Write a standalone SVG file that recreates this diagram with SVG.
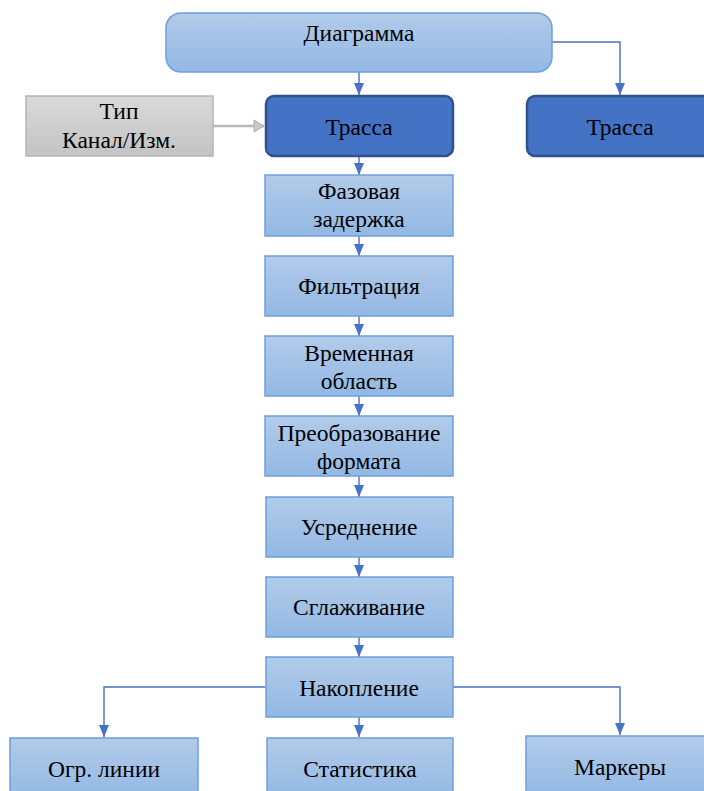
<svg xmlns="http://www.w3.org/2000/svg" width="704" height="791" viewBox="0 0 704 791">
<style>
text{font-family:"Liberation Serif","Times New Roman",serif;font-size:23.5px;fill:#000;text-anchor:middle;dominant-baseline:central}
.lb{fill:url(#gb);stroke:#6e9fda;stroke-width:1.5}
.dk{fill:#4472c4;stroke:#2f528f;stroke-width:2.5}
.gr{fill:url(#gg);stroke:#b4b4b4;stroke-width:1.5}
.c{fill:none;stroke:#4472c4;stroke-width:1.4}
</style>
<defs>
<linearGradient id="gb" x1="0" y1="0" x2="0" y2="1">
<stop offset="0" stop-color="#b2cbe9"/><stop offset="1" stop-color="#93b8e4"/>
</linearGradient>
<linearGradient id="gg" x1="0" y1="0" x2="0" y2="1">
<stop offset="0" stop-color="#dadada"/><stop offset="1" stop-color="#c3c3c3"/>
</linearGradient>
<marker id="a" viewBox="0 0 12 10" refX="12" refY="5" markerWidth="12" markerHeight="10" markerUnits="userSpaceOnUse" orient="auto">
<path d="M0,0 L12,5 L0,10 Z" fill="#4472c4"/>
</marker>
<marker id="ag" viewBox="0 0 12 14" refX="11" refY="7" markerWidth="12" markerHeight="14" markerUnits="userSpaceOnUse" orient="auto">
<path d="M1,1 L11,7 L1,13 Z" fill="#c8c8c8" stroke="#b0b0b0" stroke-width="1"/>
</marker>
</defs>
<g id="connectors">
<path class="c" d="M359,72 V95" marker-end="url(#a)"/>
<path class="c" d="M552,42 H620 V95" marker-end="url(#a)"/>
<path d="M213,126 H264" fill="none" stroke="#b8b8b8" stroke-width="2.5" marker-end="url(#ag)"/>
<path class="c" d="M359,157 V175" marker-end="url(#a)"/>
<path class="c" d="M359,236 V256" marker-end="url(#a)"/>
<path class="c" d="M359,316 V336" marker-end="url(#a)"/>
<path class="c" d="M359,396 V416" marker-end="url(#a)"/>
<path class="c" d="M359,476 V497" marker-end="url(#a)"/>
<path class="c" d="M359,557 V577" marker-end="url(#a)"/>
<path class="c" d="M359,637 V657" marker-end="url(#a)"/>
<path class="c" d="M265,687 H104 V737" marker-end="url(#a)"/>
<path class="c" d="M359,717 V737" marker-end="url(#a)"/>
<path class="c" d="M453,687 H620 V735" marker-end="url(#a)"/>
</g>
<g id="diagramma"><rect class="lb" x="166" y="13" width="386" height="59" rx="15"/><text x="359" y="33">Диаграмма</text></g>
<g id="tip"><rect class="gr" x="26" y="96" width="187" height="60"/><text x="119" y="111">Тип</text><text x="119" y="140">Канал/Изм.</text></g>
<g id="trassa1"><rect class="dk" x="266" y="96" width="187" height="60" rx="8"/><text x="359" y="127">Трасса</text></g>
<g id="trassa2"><rect class="dk" x="527" y="96" width="190" height="60" rx="8"/><text x="620" y="127">Трасса</text></g>
<g id="faz"><rect class="lb" x="265" y="175" width="188" height="61"/><text x="359" y="191">Фазовая</text><text x="359" y="219">задержка</text></g>
<g id="filt"><rect class="lb" x="265" y="256" width="188" height="60"/><text x="359" y="286">Фильтрация</text></g>
<g id="vrem"><rect class="lb" x="265" y="336" width="188" height="60"/><text x="359" y="353">Временная</text><text x="359" y="381">область</text></g>
<g id="preob"><rect class="lb" x="265" y="416" width="188" height="60"/><text x="359" y="433">Преобразование</text><text x="359" y="461">формата</text></g>
<g id="usr"><rect class="lb" x="266" y="497" width="187" height="60"/><text x="359" y="527">Усреднение</text></g>
<g id="sgl"><rect class="lb" x="266" y="577" width="187" height="60"/><text x="359" y="607">Сглаживание</text></g>
<g id="nak"><rect class="lb" x="266" y="657" width="187" height="60"/><text x="359" y="688">Накопление</text></g>
<g id="ogr"><rect class="lb" x="10" y="738" width="188" height="60"/><text x="104" y="769">Огр. линии</text></g>
<g id="stat"><rect class="lb" x="267" y="738" width="186" height="60"/><text x="360" y="769">Статистика</text></g>
<g id="mark"><rect class="lb" x="526" y="736" width="190" height="60"/><text x="620" y="767">Маркеры</text></g>
</svg>
